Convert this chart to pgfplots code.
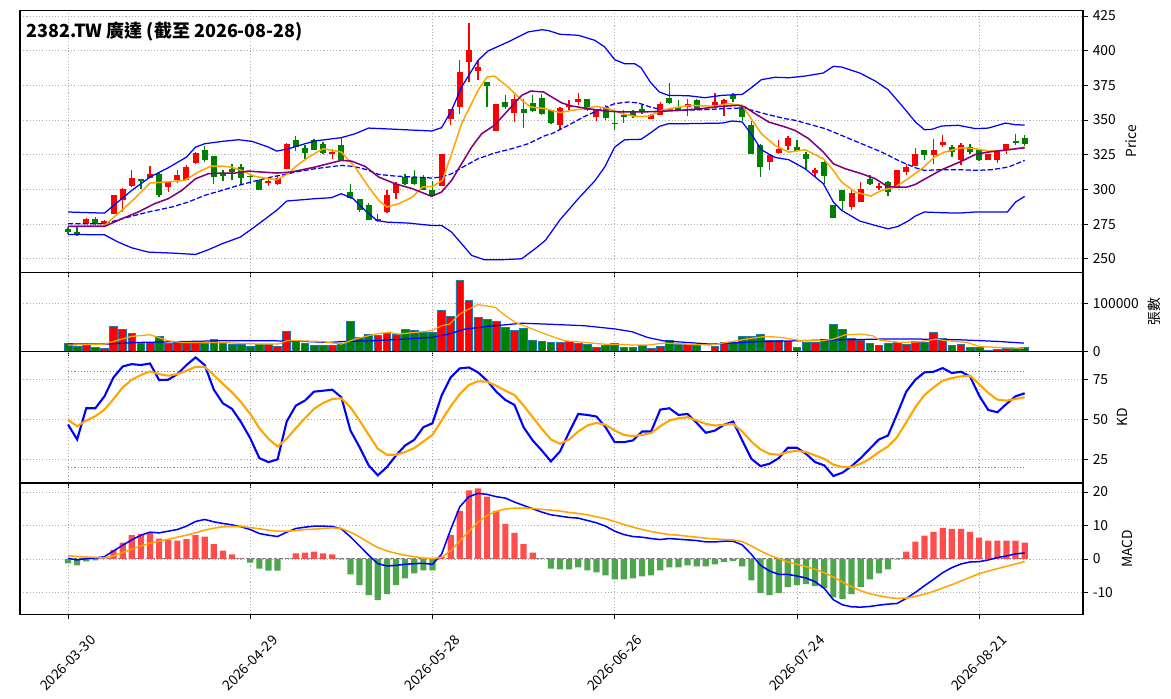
\documentclass[border=0pt]{standalone}
\usepackage{fontspec}
\setmainfont{Noto Sans CJK TC}
\usepackage{pgfplots}
\pgfplotsset{compat=1.18}
\usepackage{pgfplotstable}
\definecolor{cred}{RGB}{255,0,0}
\definecolor{cgreen}{RGB}{0,128,0}
\definecolor{corange}{RGB}{255,165,0}
\definecolor{cpurple}{RGB}{128,0,128}
\definecolor{cblue}{RGB}{0,0,255}
\definecolor{edgeblue}{RGB}{31,119,180}
\definecolor{hred}{RGB}{255,77,77}
\definecolor{hgreen}{RGB}{77,166,77}
\definecolor{gridgray}{RGB}{176,176,176}

\pgfplotstableread{
i o h l c v
2 275.2 279.6 274.8 278.8 15400
4 275.2 278.0 274.5 277.4 7000
5 282.5 295.9 282.0 295.7 51700
6 292.1 300.7 283.7 300.5 45500
7 302.2 314.2 302.0 308.4 37000
9 308.4 316.6 308.0 310.8 18900
11 301.7 305.5 298.0 305.3 16800
12 307.0 314.2 304.6 310.1 18900
13 307.0 317.3 306.8 316.1 18900
14 319.2 326.9 318.5 326.4 21000
22 304.6 307.7 302.2 306.0 14000
23 304.1 310.1 303.4 308.4 9800
24 314.9 333.4 314.4 332.5 41300
29 325.7 329.3 322.1 326.9 11900
34 276.9 282.5 276.4 278.8 34300
35 283.7 299.8 283.0 295.7 37800
36 297.4 305.3 293.3 304.1 35000
41 302.4 325.2 302.4 325.2 85300
42 350.5 357.7 346.2 357.7 73400
43 359.4 393.0 354.6 384.6 148300
44 391.8 420.2 377.4 400.2 106300
45 385.3 393.0 379.1 388.2 71300
47 342.1 361.3 342.1 361.3 62200
49 355.0 367.8 348.6 365.4 43400
54 346.2 359.4 343.8 358.9 18200
55 359.4 364.2 357.0 361.1 21000
56 363.0 369.7 360.6 364.9 17500
58 352.2 358.2 349.3 357.0 9100
64 351.0 354.6 350.5 353.8 7000
65 353.8 363.0 353.3 361.8 10500
68 359.4 365.4 352.6 361.8 14000
71 360.6 369.5 359.4 363.0 10500
72 361.8 365.4 352.6 364.7 19600
77 319.7 324.5 313.7 324.5 22400
78 326.2 335.3 325.7 329.3 22400
79 331.0 338.2 328.1 337.0 21000
82 311.8 315.6 309.2 313.7 18900
86 287.3 300.5 284.9 297.4 28000
87 290.9 305.3 290.9 300.5 22400
89 301.4 304.6 299.6 302.4 11900
91 301.2 313.7 301.2 313.7 18900
92 312.5 318.0 310.1 316.1 15400
93 316.8 330.0 316.8 325.7 21700
95 324.5 336.5 318.5 328.1 40600
96 331.7 339.4 330.5 333.9 28000
98 320.9 333.4 317.3 331.7 14000
101 320.9 325.2 320.9 325.2 2800
102 320.9 328.6 319.0 328.6 4200
103 328.1 332.9 325.2 332.9 6300
}\redtab

\pgfplotstableread{
i o h l c v
0 271.2 273.0 268.0 269.5 16800
1 269.2 272.8 266.3 266.8 11200
3 278.8 279.8 274.0 274.8 9100
8 307.2 307.7 300.5 306.0 16800
10 311.3 311.8 294.5 295.7 30800
15 328.1 331.0 319.7 321.4 17500
16 323.8 323.8 304.1 308.9 24500
17 311.3 314.2 306.0 309.4 16800
18 314.9 318.5 307.0 312.5 14000
19 316.1 318.0 304.1 308.4 14000
20 309.7 311.3 304.1 308.9 9800
21 307.0 307.7 299.3 299.8 15400
25 335.3 338.2 327.6 330.5 22400
26 329.8 331.7 322.1 326.2 16800
27 335.8 336.5 328.1 328.6 11900
28 332.5 334.2 325.2 326.2 11900
30 332.2 337.0 320.4 320.9 16800
31 297.8 304.1 293.3 294.0 62200
32 292.8 292.8 283.7 284.9 29400
33 288.5 290.2 277.6 278.1 35000
37 308.9 311.3 303.4 303.6 45500
38 308.9 314.2 303.4 304.1 43400
39 308.9 310.1 299.3 299.3 39900
40 299.8 306.0 294.5 295.4 39900
46 377.4 377.4 359.4 374.3 66400
48 362.7 367.8 358.2 359.4 50300
50 358.2 365.2 344.5 355.0 48300
51 362.3 367.8 355.8 356.5 22400
52 366.1 369.0 353.3 354.6 21000
53 357.0 357.5 346.9 347.8 18200
57 365.4 365.4 356.5 357.0 14000
59 359.4 360.6 350.2 351.4 11900
60 348.0 355.7 342.5 347.5 17500
61 353.8 357.0 347.8 352.2 9100
62 355.8 357.0 351.4 352.6 9100
63 358.2 360.6 354.1 355.8 11900
66 366.1 376.7 361.8 362.3 22400
67 359.4 364.7 356.5 357.5 14000
69 364.2 365.4 357.0 357.5 11900
73 367.8 369.5 363.0 365.4 19600
74 359.4 360.6 349.3 352.2 30800
75 346.2 349.0 325.2 325.2 30800
76 331.7 332.9 308.9 316.1 35000
80 330.5 335.3 327.6 327.6 9100
81 325.2 326.9 314.9 321.6 18900
83 319.7 320.9 304.1 309.6 25900
84 288.5 288.5 279.6 279.6 55900
85 299.3 299.3 284.9 291.6 45500
88 307.2 310.6 303.4 304.1 17500
90 305.3 306.0 295.2 298.1 16100
94 328.1 328.6 320.9 324.5 19600
97 330.5 331.7 323.3 326.9 11900
99 330.5 332.9 325.7 326.9 9100
100 328.1 328.6 320.4 320.9 7700
104 334.6 339.7 331.7 333.4 7000
105 336.8 338.9 331.0 332.5 9100
}\greentab

\pgfplotstableread{
i k d dif dea h
0 46.9 49.8 0.2 1.0 -1.3
1 37.5 45.8 -0.3 0.7 -1.9
2 57.1 49.4 0.1 0.6 -0.7
3 57.1 52.1 0.3 0.5 -0.4
4 64.6 56.25 0.7 0.4 0.1
5 76.5 62.9 2.4 0.9 2.7
6 83.3 70.2 4.1 1.9 4.9
7 84.8 75.0 5.7 2.9 7.1
8 84.2 77.9 7.1 3.9 7.5
9 85.2 80.2 8.0 4.7 8.0
10 74.8 78.5 7.8 5.3 6.1
11 75.0 77.5 8.3 5.9 5.7
12 78.5 78.5 8.8 6.5 5.5
13 84.2 80.6 9.8 7.1 5.9
14 89.0 83.1 11.2 7.8 7.1
15 84.2 83.1 11.8 8.6 6.7
16 68.8 77.9 11.1 9.2 4.4
17 60.2 72.3 10.6 9.6 2.5
18 56.7 67.1 10.2 9.7 1.4
19 48.3 60.8 9.6 9.7 0.1
20 38.3 53.5 8.8 9.4 -1.1
21 25.8 44.6 7.6 9.0 -2.9
22 23.3 37.9 7.1 8.6 -3.5
23 25.0 33.1 6.7 8.3 -3.5
24 48.75 37.9 8.0 8.3 0.05
25 58.75 44.6 9.1 8.5 1.7
26 61.9 50.8 9.5 8.8 1.9
27 67.5 56.7 9.8 8.9 2.2
28 68.1 60.4 9.8 9.1 1.7
29 68.75 62.9 9.7 9.3 1.4
30 64.0 63.3 9.0 9.1 -0.1
31 43.1 57.7 6.6 8.0 -4.6
32 32.7 49.4 3.9 6.6 -7.8
33 21.25 40.4 1.1 4.9 -10.8
34 15.0 31.7 -1.4 3.4 -12.3
35 20.2 27.9 -2.1 2.4 -10.5
36 27.5 27.9 -1.9 1.7 -7.8
37 33.75 29.6 -1.6 1.1 -5.8
38 37.3 32.1 -1.4 0.7 -4.3
39 45.2 36.25 -1.3 0.3 -3.4
40 47.7 40.4 -1.6 0.1 -3.4
41 65.0 49.4 1.4 0.5 0.7
42 76.5 58.3 8.8 2.4 7.2
43 82.1 66.0 15.6 5.4 14.4
44 82.7 71.7 18.6 8.3 20.5
45 79.6 74.0 19.6 11.0 21.1
46 74.4 73.75 19.3 13.0 18.6
47 67.5 71.25 18.6 14.2 14.4
48 62.3 68.1 18.2 14.9 10.5
49 59.2 65.4 17.0 15.2 7.8
50 45.2 58.75 16.0 15.2 4.4
51 36.9 51.5 15.0 15.1 1.9
52 30.6 44.2 14.0 14.8 0.05
53 23.75 37.5 13.2 14.6 -2.9
54 30.0 34.8 12.8 14.3 -3.1
55 42.1 37.5 12.4 13.9 -3.1
56 53.5 42.5 12.2 13.6 -2.5
57 52.9 46.25 11.5 13.2 -3.4
58 51.9 47.9 10.8 12.6 -4.0
59 45.2 46.7 9.8 12.0 -4.9
60 35.8 43.1 8.3 11.2 -6.1
61 35.8 40.4 7.3 10.3 -6.1
62 36.9 39.6 6.7 9.5 -5.8
63 42.5 40.4 6.5 8.8 -5.2
64 42.5 41.5 6.1 8.2 -4.9
65 56.25 45.8 5.8 7.7 -3.4
66 57.1 49.4 6.1 7.3 -2.5
67 52.9 50.8 5.9 7.1 -2.5
68 53.5 51.5 5.7 6.8 -1.9
69 47.9 49.4 5.5 6.5 -2.2
70 41.7 47.3 5.1 6.2 -2.2
71 43.1 46.25 5.1 6.0 -1.6
72 46.7 46.7 5.3 5.8 -0.9
73 48.75 47.3 5.3 5.7 -0.6
74 36.9 42.5 4.2 5.2 -2.2
75 25.4 36.25 1.4 3.9 -6.4
76 20.8 31.25 -1.9 2.4 -10.2
77 22.3 28.5 -3.6 1.1 -10.8
78 25.8 27.9 -4.6 0.1 -10.2
79 32.3 29.6 -4.6 -0.9 -8.4
80 32.3 30.4 -5.1 -1.6 -7.8
81 28.5 29.6 -5.7 -2.3 -7.5
82 23.3 27.5 -6.8 -3.1 -8.1
83 21.25 25.4 -8.8 -4.1 -8.7
84 14.6 21.7 -12.2 -5.4 -11.5
85 16.7 20.2 -13.7 -6.9 -12.0
86 20.8 20.2 -14.3 -8.3 -10.5
87 25.8 22.3 -14.4 -9.5 -8.4
88 31.7 25.4 -14.2 -10.4 -6.1
89 37.5 29.6 -13.8 -11.0 -4.3
90 40.0 33.1 -13.5 -11.5 -3.1
91 53.5 39.0 -13.3 -11.8 -0.1
92 67.5 48.3 -11.8 -11.7 2.2
93 75.0 57.7 -10.0 -11.2 5.2
94 79.6 65.4 -8.0 -10.5 7.0
95 80.0 70.2 -6.1 -9.7 8.1
96 82.3 74.4 -4.1 -8.7 9.3
97 79.2 76.0 -2.6 -7.7 9.0
98 80.0 77.1 -1.5 -6.6 9.0
99 77.1 77.5 -0.9 -5.5 8.1
100 65.0 72.3 -0.8 -4.4 6.4
101 56.0 66.7 -0.3 -3.6 5.5
102 54.6 62.5 0.4 -2.9 5.5
103 59.8 61.9 0.9 -2.2 5.5
104 64.6 62.9 1.5 -1.5 5.5
105 66.5 64.0 1.8 -0.8 4.9
}\indtab

\pgfplotsset{
  panel/.style={
    scale only axis, width=765.36bp,
    xmin=-5.27, xmax=111.4,
    xtick={0,20,40,60,80,100}, xticklabels={},
    grid=major,
    grid style={gridgray, dash pattern=on 0.8bp off 1.5bp, line width=0.6bp},
    xtick pos=left, ytick pos=right, yticklabel pos=right,
    tick align=outside, major tick length=3.5bp,
    tick style={black, line width=0.6bp},
    ylabel near ticks,
    scaled y ticks=false,
    ticklabel style={font=\fontsize{10}{12}\selectfont},
    label style={font=\fontsize{10}{12}\selectfont},
    /pgf/number format/assume math mode=true,
    axis line style={line width=0.8bp},
  },
  candlewick/.style={draw=none, mark=none, forget plot,
    error bars/.cd, y dir=both, y explicit, error mark=none,
    error bar style={draw=#1, line width=1bp}},
  candlebody/.style={draw=none, mark=none, forget plot,
    error bars/.cd, y dir=both, y explicit, error mark=none,
    error bar style={draw=#1, line width=4.3bp}},
}

\begin{document}
\begin{tikzpicture}
\fill[white] (0,0) rectangle (843.12bp,503.28bp);
\path[use as bounding box] (0,0) rectangle (843.12bp,503.28bp);

% ---------------- price ----------------
\begin{axis}[panel, at={(14.4bp,307.08bp)}, anchor=south west, height=188.78bp,
  ymin=240.1, ymax=429.1, ytick={250,275,300,325,350,375,400,425}, ylabel={Price}]
\addplot[candlewick=cred] table[x=i, y expr={(\thisrow{h}+\thisrow{l})/2}, y error expr={(\thisrow{h}-\thisrow{l})/2}] {\redtab};
\addplot[candlebody=cred] table[x=i, y expr={(\thisrow{o}+\thisrow{c})/2}, y error expr={(\thisrow{c}-\thisrow{o})/2}] {\redtab};
\addplot[candlewick=cgreen] table[x=i, y expr={(\thisrow{h}+\thisrow{l})/2}, y error expr={(\thisrow{h}-\thisrow{l})/2}] {\greentab};
\addplot[candlebody=cgreen] table[x=i, y expr={(\thisrow{o}+\thisrow{c})/2}, y error expr={(\thisrow{o}-\thisrow{c})/2}] {\greentab};
% upper band
\addplot[cblue, line width=0.9bp] coordinates {(0,283.7) (4,282.9) (7,299.3) (9,308.9) (11,315.6) (13,323.3) (14,330.5) (15,332.9) (16.9,334.6) (18.7,335.8) (20.2,334.6) (22,330.5) (22.9,327.6) (24.2,329.3) (26,332.9) (27.1,334.9) (30,337.3) (31.5,340.1) (33,344.2) (34.4,343.8) (37,343.0) (39.9,342.1) (41,344.5) (42.1,357.0) (43.2,373.8) (45,393.0) (46.1,399.8) (48.3,406.3) (50.5,413.5) (52,415.1) (52.7,414.5) (54,411.8) (56,411.1) (57.8,407.5) (58.9,402.7) (60,393.5) (61.1,390.6) (62.2,390.6) (62.9,387.7) (63.9,377.4) (64.9,370.2) (65.9,367.8) (68.1,367.5) (69.9,366.1) (71.8,367.8) (74,368.5) (75.1,373.8) (76.1,379.1) (77.6,380.8) (79.1,380.5) (80.9,381.7) (82.9,383.9) (84,388.7) (84.9,388.2) (86.9,383.9) (88.6,378.1) (90,371.9) (91.5,360.6) (93,348.6) (94,343.0) (94.8,343.3) (95.9,345.7) (97.7,346.2) (99.6,343.8) (101,344.2) (102.9,347.8) (104,346.6) (105,346.4)};
% lower band
\addplot[cblue, line width=0.9bp] coordinates {(0,267.5) (4,267.3) (5.5,262.0) (7,257.9) (8.8,254.8) (11.4,254.1) (14,253.1) (15.4,256.5) (16.9,260.8) (18.9,265.6) (20.2,271.6) (22,280.5) (22.9,284.9) (24,291.6) (24.9,292.1) (27.1,293.3) (28.9,294.0) (30,296.9) (31.3,293.3) (32.6,284.9) (33.9,277.6) (35,276.4) (37.4,275.7) (39.9,274.0) (41,274.0) (42.1,269.2) (43.2,260.8) (44.3,252.4) (45.7,249.3) (47.6,249.3) (49.8,250.0) (51.3,257.4) (52.4,263.3) (54,278.1) (56,293.3) (57.8,306.0) (58.9,316.1) (60,330.5) (61.1,335.8) (62.9,336.1) (63.9,340.6) (64.9,345.4) (65.9,347.4) (68.1,347.4) (71.8,347.8) (72.9,349.3) (74,348.6) (75.1,338.9) (76.1,328.6) (77.6,323.0) (79.1,321.4) (80.9,314.9) (82.9,304.1) (84,290.9) (84.9,284.9) (86.9,277.2) (88.6,274.0) (90,271.6) (91.1,273.3) (92.2,277.2) (93,280.8) (94,283.7) (95.9,283.2) (97.7,282.9) (99.6,283.7) (103.1,283.7) (104,290.9) (105,295.0)};
% middle band
\addplot[cblue, line width=0.9bp, dash pattern=on 3.7bp off 1.6bp] coordinates {(0,275.2) (4,275.2) (5.9,278.8) (8.8,283.7) (11.4,287.3) (13.2,290.9) (15,295.7) (16.9,299.3) (18.7,302.9) (20.5,306.0) (22.3,308.9) (24.2,311.3) (24.9,312.5) (27.1,314.9) (30,317.3) (31.3,316.6) (32.8,314.2) (34.1,310.8) (35.9,309.6) (38.1,308.9) (39.9,308.2) (41,308.9) (42.1,311.3) (43.2,315.6) (45,322.1) (46.8,326.2) (48.7,329.3) (50.5,332.9) (52.4,338.9) (53.1,340.1) (54.9,346.2) (56.7,352.6) (58.6,358.2) (60,361.8) (61.5,363.0) (62.6,362.3) (63.9,359.4) (65.1,357.5) (67.6,357.0) (69.9,357.5) (72,358.2) (74,358.7) (75.1,357.0) (76.9,353.8) (78.7,351.0) (79.8,349.8) (83.1,343.8) (84.9,338.9) (87.1,332.9) (89.3,326.9) (91.5,319.7) (93,315.6) (94,313.7) (95.9,314.2) (98.1,314.2) (99.6,313.7) (101.4,314.2) (103.2,316.1) (105,320.9)};
% MA5
\addplot[corange, line width=1.1bp] coordinates {(0,273.3) (4,274.0) (5.9,284.9) (7.3,293.3) (9,304.6) (11,305.5) (12.8,306.5) (14.3,312.5) (15.7,316.8) (16.9,316.8) (17.9,316.1) (19,313.7) (20.5,309.4) (22,307.7) (22.9,307.0) (24.2,311.3) (24.9,316.1) (26.4,323.3) (28,329.3) (30,326.9) (31.5,316.1) (33,301.7) (34.1,292.1) (35,287.3) (36.3,289.7) (37.8,294.5) (38.9,301.7) (40,302.2) (41.1,306.5) (42.1,325.7) (43.2,347.4) (45,371.4) (46,381.0) (46.8,381.7) (48.3,373.8) (49.8,364.2) (50.8,359.4) (52.4,358.2) (54,355.3) (55.3,357.0) (56.7,358.2) (58,359.9) (59.3,358.2) (60.8,354.6) (62.2,352.6) (63.7,352.6) (65.1,357.0) (66.6,358.9) (68.4,360.6) (71,359.9) (72.4,361.8) (74,360.6) (75.1,349.8) (76.1,340.1) (77.6,331.7) (79.1,326.9) (80.9,328.6) (82.9,322.1) (84,313.7) (84.9,305.3) (86.4,298.1) (88.1,295.2) (89.3,299.3) (90.8,301.7) (92.2,307.7) (93.7,314.9) (95.1,323.3) (96.2,326.9) (98.1,330.0) (99.6,329.3) (101,327.6) (102.9,328.1) (105,330.5)};
% MA10
\addplot[cpurple, line width=1.1bp] coordinates {(0,273.3) (4,273.3) (5.9,278.8) (7.7,283.7) (9.5,289.7) (11,293.3) (12.5,299.3) (14,307.7) (15.4,311.3) (16.9,311.8) (18.3,311.8) (19.8,313.2) (21.3,312.5) (22.9,311.8) (24.5,312.5) (27.1,316.1) (30,320.9) (31.1,320.4) (32.6,316.6) (34.1,308.9) (35.9,304.1) (37.8,300.5) (39.9,295.0) (41,298.1) (42.1,306.5) (43.2,318.5) (44.3,330.5) (45.4,340.1) (46.8,346.2) (48.3,357.0) (49.8,367.8) (50.8,370.9) (52.2,370.2) (53.1,366.6) (54.2,362.3) (55.3,360.1) (57.1,358.2) (58.9,356.5) (60.8,355.8) (62.9,355.8) (65.1,356.3) (67.3,357.0) (69.5,358.2) (71.8,359.9) (73.6,360.6) (74.3,359.4) (75.4,354.6) (76.9,348.6) (78.7,345.0) (79.8,342.5) (81.3,336.5) (82.9,326.9) (84,318.5) (85.3,314.9) (87.1,311.3) (88.6,307.7) (89.9,302.2) (90.8,301.7) (92.1,301.7) (93,303.6) (94.1,307.7) (95.9,314.2) (98.1,320.4) (99.6,325.2) (101,326.9) (103.2,328.6) (105,330.0)};
\end{axis}
\node[anchor=west, inner sep=0pt, font=\bfseries\fontsize{13}{15}\selectfont] at (18.7bp,480.2bp) {2382.TW 廣達 (截至 2026-08-28)};

% ---------------- volume ----------------
\begin{axis}[panel, at={(14.4bp,250.2bp)}, anchor=south west, height=56.88bp,
  ymin=0, ymax=165000, ytick={0,100000}, yticklabels={0,100000}, ylabel={張數}]
\addplot[ybar, bar width=0.85, bar shift=0pt, fill=cred, draw=edgeblue, line width=0.5bp] table[x=i, y=v] {\redtab};
\addplot[ybar, bar width=0.85, bar shift=0pt, fill=cgreen, draw=edgeblue, line width=0.5bp] table[x=i, y=v] {\greentab};
\addplot[cblue, line width=0.9bp] coordinates {(0,15400) (4,15400) (7.7,18900) (13.2,21000) (16.9,22400) (22.4,22400) (26,21000) (28.6,18900) (30.4,21000) (33.3,22400) (37,25900) (39.9,29400) (41.8,36400) (43.6,46900) (46.1,52400) (49.8,59000) (52.4,57300) (56.7,53800) (60.1,46900) (61.9,41300) (63.6,29400) (65.3,22400) (67.9,18900) (70.5,15400) (74,18900) (76.6,21000) (80.1,22400) (82.7,23800) (85.3,24500) (89.1,25900) (93.5,25900) (97.8,24500) (102.1,21000) (104.9,17500)};
\addplot[corange, line width=0.9bp] coordinates {(0,13300) (4,15400) (5.9,25900) (7,31500) (9,35000) (11,22400) (12.5,18900) (14.3,18900) (16.9,18900) (19.1,16800) (21.3,15400) (23.1,15400) (24,22400) (24.9,22400) (27.8,21000) (30,15400) (31.5,25900) (33.7,36400) (35.2,39900) (36.3,36400) (38.1,39900) (39.9,43400) (41,53800) (41.9,57300) (43,78300) (44,88800) (45,97900) (46.9,92300) (48,74800) (49.1,60800) (50.5,50300) (52.4,36400) (53.4,29400) (54.5,22400) (56.7,18900) (58.8,15400) (61,14000) (63.6,13300) (65.3,17500) (67.9,15400) (70.5,13300) (72.7,20300) (74.9,27300) (76.6,31500) (78.3,29400) (80.5,22400) (82.7,22400) (84,25900) (85.3,35000) (87,36400) (88.3,32900) (89.1,23800) (91.3,18900) (93.5,20300) (95.2,25900) (96.5,22400) (98.7,18900) (100,10500) (102.1,8400) (104.9,7000)};
\end{axis}

% ---------------- KD ----------------
\begin{axis}[panel, at={(14.4bp,155.52bp)}, anchor=south west, height=94.68bp,
  ymin=10.2, ymax=92.7, ytick={25,50,75}, ylabel={KD}]
\addplot[gray, line width=0.7bp, dash pattern=on 0.8bp off 1.5bp] coordinates {(0,80) (105,80)};
\addplot[gray, line width=0.7bp, dash pattern=on 0.8bp off 1.5bp] coordinates {(0,20) (105,20)};
\addplot[cblue, line width=1.5bp] table[x=i, y=k] {\indtab};
\addplot[corange, line width=1.5bp] table[x=i, y=d] {\indtab};
\end{axis}

% ---------------- MACD ----------------
\begin{axis}[panel, at={(14.4bp,60.84bp)}, anchor=south west, height=94.68bp,
  ymin=-16.6, ymax=22.7, ytick={-10,0,10,20}, yticklabels={-10,0,10,20}, ylabel={MACD},
  xticklabels={2026-03-30,2026-04-29,2026-05-28,2026-06-26,2026-07-24,2026-08-21},
  xticklabel style={yshift=-31.5bp, rotate=45, anchor=center}]
\addplot[gray, line width=0.7bp, dash pattern=on 2.8bp off 1.2bp] coordinates {(0,0) (105,0)};
\addplot[ybar, bar width=0.68, bar shift=0pt, fill=hred, draw=none, restrict y to domain=0:100] table[x=i, y=h] {\indtab};
\addplot[ybar, bar width=0.68, bar shift=0pt, fill=hgreen, draw=none, restrict y to domain=-100:0] table[x=i, y=h] {\indtab};
\addplot[cblue, line width=1.1bp] table[x=i, y=dif] {\indtab};
\addplot[corange, line width=1.1bp] table[x=i, y=dea] {\indtab};
\end{axis}
\end{tikzpicture}
\end{document}
